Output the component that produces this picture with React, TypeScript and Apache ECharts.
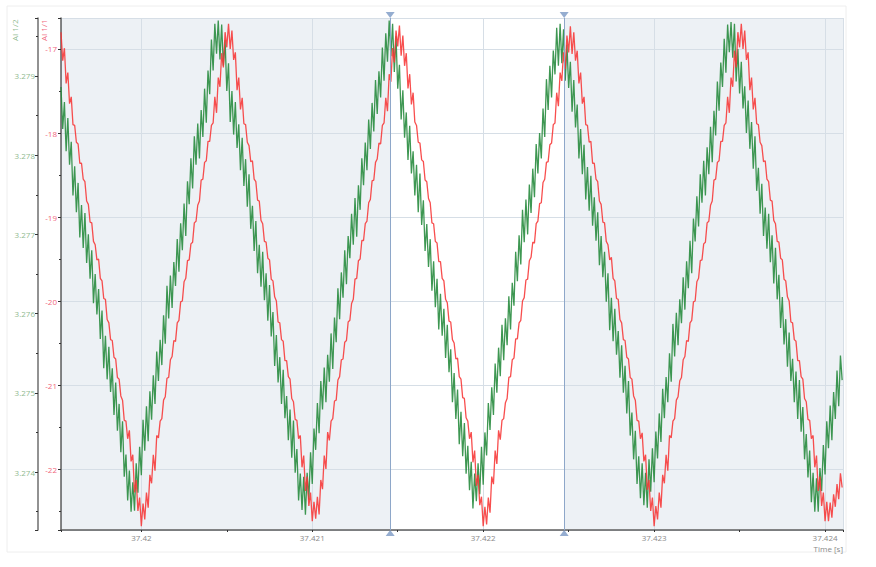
import React, { useEffect, useRef } from "react";
import * as echarts from "echarts";

// ---- data ----
const T0 = 37.41953; // first sample time [s]
const DT = 0.00001; // sampling step [s]
const xRange = [37.41953, 37.424105];
const redRange = [-22.726, -16.631];
const greenRange = [3.273268, 3.279732];
const cursorTimes = [37.421456, 37.422474];
const redName = "AI 1/1";
const greenName = "AI 1/2";
const xName = "Time [s]";

const redValues = [
  -16.80, -17.14, -16.99, -17.41, -17.28, -17.65, -17.57, -17.90, -17.91, -18.11,
  -18.13, -18.36, -18.36, -18.55, -18.58, -18.81, -18.85, -19.06, -19.07, -19.29,
  -19.33, -19.51, -19.50, -19.73, -19.76, -19.97, -19.98, -20.22, -20.26, -20.46,
  -20.47, -20.67, -20.69, -20.91, -20.93, -21.13, -21.18, -21.42, -21.43, -21.64,
  -21.54, -21.91, -21.83, -22.28, -22.13, -22.50, -22.34, -22.68, -22.41, -22.60,
  -22.28, -22.46, -22.07, -22.17, -21.83, -22.02, -21.60, -21.63, -21.43, -21.40,
  -21.18, -21.14, -20.92, -20.91, -20.70, -20.66, -20.47, -20.48, -20.26, -20.23,
  -20.01, -20.00, -19.77, -19.73, -19.52, -19.51, -19.32, -19.30, -19.07, -19.05,
  -18.86, -18.81, -18.56, -18.55, -18.35, -18.33, -18.10, -18.10, -17.91, -17.88,
  -17.57, -17.76, -17.34, -17.45, -17.05, -17.22, -16.80, -16.98, -16.70, -17.00,
  -16.78, -17.13, -17.04, -17.49, -17.34, -17.72, -17.58, -17.89, -17.90, -18.11,
  -18.15, -18.34, -18.33, -18.55, -18.58, -18.80, -18.81, -19.04, -19.08, -19.29,
  -19.30, -19.49, -19.51, -19.74, -19.76, -19.95, -20.00, -20.25, -20.26, -20.46,
  -20.48, -20.71, -20.71, -20.90, -20.93, -21.16, -21.20, -21.41, -21.42, -21.64,
  -21.60, -21.98, -21.84, -22.26, -22.09, -22.44, -22.28, -22.62, -22.39, -22.59,
  -22.33, -22.54, -22.13, -22.24, -21.84, -22.00, -21.56, -21.66, -21.43, -21.40,
  -21.19, -21.18, -20.94, -20.90, -20.70, -20.69, -20.49, -20.47, -20.25, -20.23,
  -20.03, -19.98, -19.74, -19.73, -19.52, -19.50, -19.28, -19.28, -19.08, -19.05,
  -18.83, -18.79, -18.57, -18.56, -18.35, -18.31, -18.12, -18.13, -17.91, -17.88,
  -17.58, -17.74, -17.30, -17.39, -16.99, -17.16, -16.78, -16.97, -16.72, -17.08,
  -16.84, -17.20, -17.05, -17.47, -17.30, -17.66, -17.52, -17.87, -17.91, -18.11,
  -18.12, -18.32, -18.34, -18.56, -18.58, -18.78, -18.83, -19.07, -19.08, -19.29,
  -19.31, -19.53, -19.53, -19.73, -19.76, -19.98, -20.02, -20.24, -20.25, -20.46,
  -20.50, -20.69, -20.68, -20.90, -20.93, -21.15, -21.16, -21.39, -21.43, -21.64,
  -21.56, -21.92, -21.78, -22.20, -22.07, -22.43, -22.33, -22.68, -22.45, -22.66,
  -22.34, -22.52, -22.09, -22.18, -21.78, -21.94, -21.54, -21.65, -21.42, -21.40,
  -21.21, -21.16, -20.91, -20.90, -20.70, -20.68, -20.45, -20.45, -20.26, -20.23,
  -20.00, -19.96, -19.75, -19.74, -19.52, -19.48, -19.30, -19.31, -19.08, -19.05,
  -18.84, -18.83, -18.59, -18.55, -18.35, -18.34, -18.14, -18.12, -17.90, -17.88,
  -17.52, -17.68, -17.28, -17.38, -17.04, -17.24, -16.84, -17.04, -16.73, -17.06,
  -16.80, -17.14, -17.02, -17.41, -17.28, -17.65, -17.57, -17.90, -17.91, -18.11,
  -18.10, -18.36, -18.36, -18.55, -18.58, -18.81, -18.85, -19.06, -19.07, -19.29,
  -19.33, -19.51, -19.48, -19.73, -19.76, -19.97, -19.98, -20.22, -20.26, -20.46,
  -20.47, -20.67, -20.69, -20.91, -20.93, -21.13, -21.18, -21.42, -21.43, -21.64,
  -21.57, -21.91, -21.83, -22.25, -22.13, -22.50, -22.34, -22.68, -22.44, -22.60,
  -22.28, -22.46, -22.07, -22.17, -21.83, -22.02, -21.60, -21.63, -21.43, -21.40,
  -21.18, -21.14, -20.95, -20.91, -20.70, -20.66, -20.47, -20.48, -20.26, -20.23,
  -20.01, -20.00, -19.77, -19.73, -19.52, -19.51, -19.32, -19.30, -19.07, -19.05,
  -18.86, -18.81, -18.56, -18.55, -18.35, -18.33, -18.10, -18.10, -17.91, -17.88,
  -17.57, -17.76, -17.34, -17.45, -17.02, -17.22, -16.80, -16.98, -16.70, -17.00,
  -16.78, -17.13, -17.04, -17.49, -17.34, -17.72, -17.58, -17.89, -17.90, -18.11,
  -18.15, -18.34, -18.33, -18.55, -18.58, -18.80, -18.81, -19.04, -19.08, -19.29,
  -19.30, -19.49, -19.51, -19.74, -19.76, -19.95, -20.00, -20.25, -20.26, -20.46,
  -20.48, -20.71, -20.71, -20.90, -20.93, -21.16, -21.20, -21.41, -21.42, -21.64,
  -21.60, -21.98, -21.84, -22.26, -22.09, -22.44, -22.28, -22.62, -22.39, -22.62,
  -22.40, -22.58, -22.30, -22.45, -22.18, -22.36, -22.05, -22.22,
];

const greenValues = [
  3.27886, 3.27833, 3.27867, 3.27805, 3.27847, 3.27788, 3.27817, 3.27749, 3.27786, 3.27728,
  3.27765, 3.27696, 3.27737, 3.27683, 3.27727, 3.27664, 3.27700, 3.27644, 3.27680, 3.27613,
  3.27650, 3.27599, 3.27631, 3.27568, 3.27604, 3.27531, 3.27572, 3.27517, 3.27558, 3.27501,
  3.27531, 3.27472, 3.27513, 3.27452, 3.27486, 3.27425, 3.27464, 3.27394, 3.27422, 3.27364,
  3.27402, 3.27350, 3.27387, 3.27351, 3.27411, 3.27374, 3.27432, 3.27396, 3.27466, 3.27427,
  3.27483, 3.27439, 3.27502, 3.27466, 3.27522, 3.27486, 3.27552, 3.27515, 3.27567, 3.27535,
  3.27598, 3.27562, 3.27635, 3.27594, 3.27648, 3.27607, 3.27665, 3.27635, 3.27694, 3.27653,
  3.27714, 3.27680, 3.27739, 3.27698, 3.27767, 3.27738, 3.27796, 3.27758, 3.27824, 3.27788,
  3.27840, 3.27796, 3.27857, 3.27823, 3.27884, 3.27841, 3.27907, 3.27877, 3.27946, 3.27907,
  3.27966, 3.27928, 3.27970, 3.27921, 3.27965, 3.27913, 3.27945, 3.27881, 3.27916, 3.27842,
  3.27881, 3.27826, 3.27867, 3.27809, 3.27839, 3.27781, 3.27822, 3.27761, 3.27795, 3.27735,
  3.27776, 3.27707, 3.27736, 3.27679, 3.27717, 3.27651, 3.27687, 3.27634, 3.27678, 3.27617,
  3.27651, 3.27591, 3.27636, 3.27571, 3.27602, 3.27534, 3.27573, 3.27513, 3.27545, 3.27486,
  3.27529, 3.27468, 3.27496, 3.27440, 3.27479, 3.27418, 3.27465, 3.27399, 3.27429, 3.27364,
  3.27398, 3.27352, 3.27394, 3.27346, 3.27399, 3.27365, 3.27425, 3.27385, 3.27455, 3.27428,
  3.27487, 3.27449, 3.27515, 3.27479, 3.27532, 3.27488, 3.27548, 3.27514, 3.27575, 3.27530,
  3.27595, 3.27564, 3.27632, 3.27593, 3.27652, 3.27620, 3.27680, 3.27637, 3.27698, 3.27670,
  3.27726, 3.27687, 3.27746, 3.27697, 3.27762, 3.27731, 3.27796, 3.27762, 3.27816, 3.27781,
  3.27845, 3.27808, 3.27866, 3.27830, 3.27895, 3.27852, 3.27906, 3.27873, 3.27936, 3.27894,
  3.27954, 3.27918, 3.27970, 3.27925, 3.27966, 3.27905, 3.27950, 3.27884, 3.27914, 3.27845,
  3.27882, 3.27822, 3.27854, 3.27794, 3.27837, 3.27777, 3.27805, 3.27749, 3.27788, 3.27728,
  3.27777, 3.27712, 3.27743, 3.27679, 3.27713, 3.27659, 3.27694, 3.27629, 3.27666, 3.27608,
  3.27644, 3.27580, 3.27625, 3.27572, 3.27606, 3.27544, 3.27586, 3.27526, 3.27555, 3.27488,
  3.27525, 3.27467, 3.27504, 3.27435, 3.27476, 3.27420, 3.27462, 3.27398, 3.27433, 3.27377,
  3.27413, 3.27354, 3.27398, 3.27363, 3.27411, 3.27372, 3.27432, 3.27384, 3.27450, 3.27421,
  3.27487, 3.27453, 3.27507, 3.27472, 3.27537, 3.27500, 3.27557, 3.27521, 3.27586, 3.27541,
  3.27594, 3.27560, 3.27622, 3.27580, 3.27639, 3.27610, 3.27678, 3.27641, 3.27699, 3.27662,
  3.27731, 3.27690, 3.27744, 3.27700, 3.27763, 3.27727, 3.27783, 3.27747, 3.27814, 3.27777,
  3.27828, 3.27796, 3.27859, 3.27823, 3.27896, 3.27857, 3.27913, 3.27873, 3.27932, 3.27902,
  3.27961, 3.27913, 3.27966, 3.27916, 3.27959, 3.27894, 3.27939, 3.27885, 3.27918, 3.27855,
  3.27895, 3.27835, 3.27864, 3.27796, 3.27833, 3.27776, 3.27813, 3.27744, 3.27785, 3.27730,
  3.27774, 3.27711, 3.27747, 3.27692, 3.27728, 3.27661, 3.27698, 3.27646, 3.27678, 3.27615,
  3.27651, 3.27579, 3.27620, 3.27565, 3.27606, 3.27548, 3.27578, 3.27519, 3.27560, 3.27500,
  3.27534, 3.27474, 3.27515, 3.27446, 3.27475, 3.27416, 3.27452, 3.27385, 3.27420, 3.27367,
  3.27411, 3.27358, 3.27399, 3.27355, 3.27416, 3.27375, 3.27430, 3.27387, 3.27451, 3.27417,
  3.27474, 3.27438, 3.27505, 3.27468, 3.27520, 3.27488, 3.27550, 3.27514, 3.27587, 3.27546,
  3.27601, 3.27560, 3.27618, 3.27588, 3.27646, 3.27605, 3.27666, 3.27632, 3.27692, 3.27651,
  3.27720, 3.27691, 3.27748, 3.27710, 3.27776, 3.27740, 3.27793, 3.27749, 3.27810, 3.27776,
  3.27836, 3.27791, 3.27856, 3.27825, 3.27893, 3.27856, 3.27917, 3.27886, 3.27947, 3.27904,
  3.27965, 3.27930, 3.27968, 3.27923, 3.27966, 3.27893, 3.27934, 3.27878, 3.27918, 3.27859,
  3.27887, 3.27828, 3.27869, 3.27808, 3.27842, 3.27783, 3.27824, 3.27755, 3.27784, 3.27726,
  3.27764, 3.27698, 3.27734, 3.27682, 3.27726, 3.27665, 3.27699, 3.27638, 3.27683, 3.27618,
  3.27649, 3.27582, 3.27621, 3.27561, 3.27593, 3.27533, 3.27576, 3.27515, 3.27543, 3.27488,
  3.27527, 3.27467, 3.27516, 3.27451, 3.27482, 3.27416, 3.27448, 3.27393, 3.27427, 3.27362,
  3.27399, 3.27350, 3.27392, 3.27350, 3.27405, 3.27376, 3.27434, 3.27397, 3.27464, 3.27430,
  3.27484, 3.27440, 3.27501, 3.27467, 3.27528, 3.27483, 3.27547, 3.27516,
];

const timeValues = redValues.map((_, i) => Number((T0 + i * DT).toFixed(5)));

const FONT = "'Open Sans', 'DejaVu Sans', sans-serif";

const isMultiple = (v: number, step: number) =>
  Math.abs(v / step - Math.round(v / step)) < 1e-4;

export default function App() {
  const ref = useRef<HTMLDivElement>(null);

  useEffect(() => {
    if (!ref.current) return;
    const chart = echarts.init(ref.current, undefined, { renderer: "svg" });

    const minorTickAxis = (min: number, max: number, split: number, extra: any) => ({
      type: "value",
      min,
      max,
      splitNumber: split,
      axisLine: { show: false, onZero: false },
      axisTick: { show: true, length: 2, lineStyle: { color: "#333333", width: 1 } },
      axisLabel: { show: false },
      splitLine: { show: false },
      ...extra,
    });

    const option: any = {
      animation: false,
      backgroundColor: "#ffffff",
      grid: { left: 61, top: 18, right: 33, bottom: 37, containLabel: false },
      xAxis: [
        {
          type: "value",
          min: xRange[0],
          max: xRange[1],
          splitNumber: 5,
          position: "bottom",
          axisLine: { show: true, onZero: false, lineStyle: { color: "#5e5e5e", width: 1.5 } },
          axisTick: { show: true, length: 2, lineStyle: { color: "#333333", width: 1 } },
          axisLabel: {
            color: "#8a8a8a",
            fontSize: 8,
            fontFamily: FONT,
            margin: 3,
            formatter: (v: number) => (isMultiple(v, 0.001) ? String(Number(v.toFixed(3))) : ""),
          },
          splitLine: { show: true, lineStyle: { color: "#d6dee6", width: 1 } },
        },
        minorTickAxis(xRange[0], xRange[1], 10, { position: "bottom" }),
      ],
      yAxis: [
        {
          type: "value",
          min: redRange[0],
          max: redRange[1],
          splitNumber: 6,
          position: "left",
          offset: 0,
          axisLine: { show: true, onZero: false, lineStyle: { color: "#5e5e5e", width: 1.5 } },
          axisTick: { show: true, length: 3, lineStyle: { color: "#333333", width: 1 } },
          axisLabel: {
            color: "#f0667c",
            fontSize: 8,
            fontFamily: FONT,
            margin: 4,
            formatter: (v: number) => (isMultiple(v, 1) ? String(Math.round(v)) : ""),
          },
          splitLine: { show: true, lineStyle: { color: "#d6dee6", width: 1 } },
        },
        minorTickAxis(redRange[0], redRange[1], 12, { position: "left", offset: 0 }),
        {
          type: "value",
          min: greenRange[0],
          max: greenRange[1],
          splitNumber: 6,
          position: "left",
          offset: 23,
          axisLine: { show: true, onZero: false, lineStyle: { color: "#6e6e6e", width: 1.5 } },
          axisTick: { show: true, length: 3, lineStyle: { color: "#333333", width: 1 } },
          axisLabel: {
            color: "#8fba8f",
            fontSize: 8,
            fontFamily: FONT,
            margin: 3,
            formatter: (v: number) => (isMultiple(v, 0.001) ? v.toFixed(3) : ""),
          },
          splitLine: { show: false },
        },
        minorTickAxis(greenRange[0], greenRange[1], 12, { position: "left", offset: 23 }),
      ],
      graphic: [
        {
          type: "rect",
          silent: true,
          z: -10,
          shape: { x: 7, y: 6, width: 839, height: 546 },
          style: { fill: "none", stroke: "#eeeeee", lineWidth: 1 },
        },
        {
          type: "text",
          x: 43,
          y: 41,
          rotation: Math.PI / 2,
          style: {
            text: redName,
            fill: "#f0667c",
            font: `8px ${FONT}`,
            align: "left",
            verticalAlign: "middle",
          },
        },
        {
          type: "text",
          x: 14,
          y: 41,
          rotation: Math.PI / 2,
          style: {
            text: greenName,
            fill: "#8fba8f",
            font: `8px ${FONT}`,
            align: "left",
            verticalAlign: "middle",
          },
        },
        {
          type: "text",
          right: 33,
          top: 544,
          style: { text: xName, fill: "#8a8a8a", font: `8px ${FONT}` },
        },
      ],
      series: [
        {
          type: "line",
          name: greenName,
          xAxisIndex: 0,
          yAxisIndex: 2,
          data: timeValues.map((t, i) => [t, greenValues[i]]),
          showSymbol: false,
          symbol: "none",
          lineStyle: { color: "#23893a", width: 1.3, opacity: 0.88 },
          z: 3,
        },
        {
          type: "line",
          name: redName,
          xAxisIndex: 0,
          yAxisIndex: 0,
          data: timeValues.map((t, i) => [t, redValues[i]]),
          showSymbol: false,
          symbol: "none",
          lineStyle: { color: "#f73535", width: 1.3, opacity: 0.88 },
          z: 4,
          markArea: {
            silent: true,
            z: -1,
            itemStyle: { color: "rgba(190,205,220,0.28)" },
            data: [
              [{ xAxis: xRange[0] }, { xAxis: cursorTimes[0] }],
              [{ xAxis: cursorTimes[1] }, { xAxis: xRange[1] }],
            ],
          },
          markLine: {
            silent: true,
            precision: 6,
            symbol: "none",
            label: { show: false },
            lineStyle: { color: "#8ea7c9", width: 1, type: "solid" },
            data: cursorTimes.map((t) => ({ xAxis: t })),
          },
        },
        {
          type: "scatter",
          xAxisIndex: 0,
          yAxisIndex: 0,
          silent: true,
          clip: false,
          symbol: "triangle",
          symbolRotate: 180,
          symbolSize: [9, 6],
          symbolOffset: [0, -3],
          itemStyle: { color: "#7b99c4" },
          data: cursorTimes.map((t) => [t, redRange[1]]),
          z: 6,
        },
        {
          type: "scatter",
          xAxisIndex: 0,
          yAxisIndex: 0,
          silent: true,
          clip: false,
          symbol: "triangle",
          symbolSize: [9, 6],
          symbolOffset: [0, 3],
          itemStyle: { color: "#7b99c4" },
          data: cursorTimes.map((t) => [t, redRange[0]]),
          z: 6,
        },
      ],
    };

    chart.setOption(option);
    return () => chart.dispose();
  }, []);

  return (
    <div
      ref={ref}
      style={{ position: "absolute", left: 0, top: 0, width: 876, height: 567 }}
    />
  );
}
